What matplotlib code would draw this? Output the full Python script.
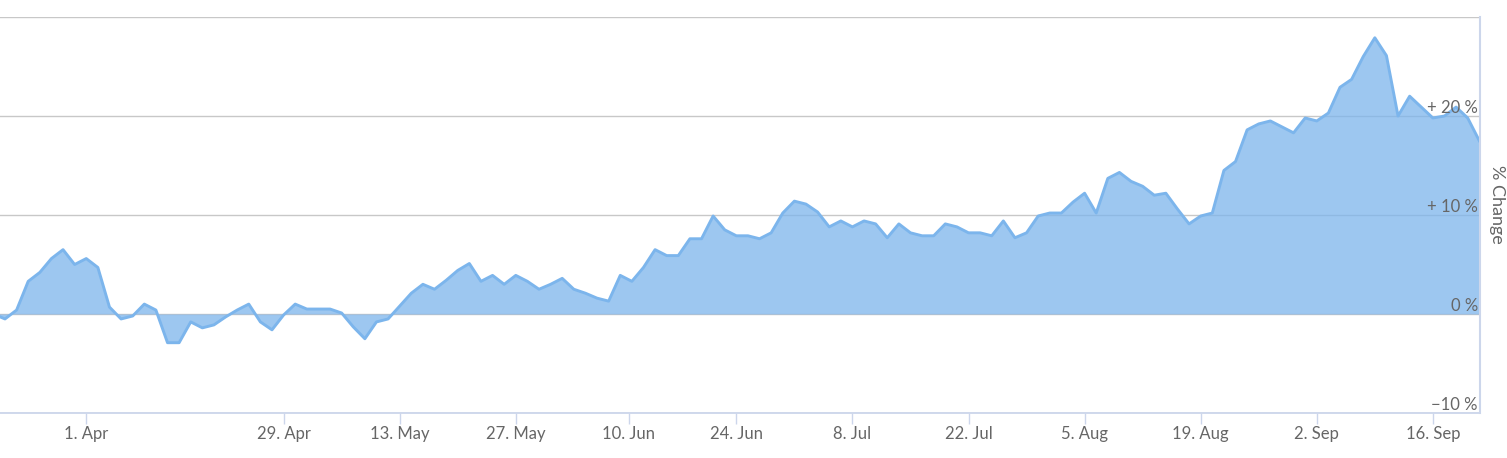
import numpy as np
import pandas as pd
import matplotlib
matplotlib.use('Agg')
import matplotlib.pyplot as plt

plt.rcParams['font.family'] = ['Lato', 'DejaVu Sans']

# trading days (market closed on these dates)
HOLIDAYS = ['2019-04-18', '2019-04-19', '2019-04-22', '2019-06-10']
dates = pd.bdate_range('2019-03-20', '2019-09-20', freq='C', holidays=HOLIDAYS)

# % change vs first day, one value per trading day
pct_change = [
    0.0, -0.5, 0.4, 3.3, 4.2, 5.6, 6.5, 5.0, 5.6, 4.7,
    0.7, -0.5, -0.2, 1.0, 0.4, -2.9, -2.9, -0.8, -1.4, -1.1,
    -0.3, 0.4, 1.0, -0.8, -1.6, -0.1, 1.0, 0.5, 0.5, 0.5,
    0.1, -1.3, -2.5, -0.8, -0.5, 0.8, 2.1, 3.0, 2.5, 3.4,
    4.4, 5.1, 3.3, 3.9, 3.0, 3.9, 3.3, 2.5, 3.0, 3.6,
    2.5, 2.1, 1.6, 1.3, 3.9, 3.3, 4.7, 6.5, 5.9, 5.9,
    7.6, 7.6, 9.9, 8.5, 7.9, 7.9, 7.6, 8.2, 10.2, 11.4,
    11.1, 10.3, 8.8, 9.4, 8.8, 9.4, 9.1, 7.7, 9.1, 8.2,
    7.9, 7.9, 9.1, 8.8, 8.2, 8.2, 7.9, 9.4, 7.7, 8.2,
    9.9, 10.2, 10.2, 11.3, 12.2, 10.2, 13.7, 14.3, 13.4, 12.9,
    12.0, 12.2, 10.6, 9.1, 9.9, 10.2, 14.5, 15.4, 18.6, 19.2,
    19.5, 18.9, 18.3, 19.8, 19.5, 20.3, 22.9, 23.7, 26.0, 27.9,
    26.1, 20.0, 22.0, 20.9, 19.8, 20.0, 20.9, 19.8, 17.5,
]

tick_dates = ['2019-04-01', '2019-04-29', '2019-05-13', '2019-05-27', '2019-06-10',
              '2019-06-24', '2019-07-08', '2019-07-22', '2019-08-05', '2019-08-19',
              '2019-09-02', '2019-09-16']
tick_labels = ['1. Apr', '29. Apr', '13. May', '27. May', '10. Jun', '24. Jun',
               '8. Jul', '22. Jul', '5. Aug', '19. Aug', '2. Sep', '16. Sep']

y_ticks = [-10, 0, 10, 20, 30]
y_labels = {-10: '\u221210 %', 0: '0 %', 10: '+ 10 %', 20: '+ 20 %'}

LINE = '#7cb5ec'
AXIS = '#ccd6eb'
GRID = '#c8c8c8'
TEXT = '#666666'

# ordinal x axis: one slot per trading day, ticks interpolated on closed days
x = np.arange(len(dates))
day_num = dates.values.astype('datetime64[D]').astype(float)
tick_num = pd.to_datetime(tick_dates).values.astype('datetime64[D]').astype(float)
tick_pos = np.interp(tick_num, day_num, x)

W, H = 1507, 458
fig = plt.figure(figsize=(W / 100, H / 100), dpi=100)
ax = fig.add_axes([0, 45 / H, 1480 / W, 396 / H])

ax.fill_between(x, pct_change, 0, color=LINE, alpha=0.75, lw=0, zorder=1)
ax.plot(x, pct_change, color=LINE, lw=2.1, zorder=2, solid_joinstyle='round')

ax.set_xlim(0.57, 128.06)
ax.set_ylim(-10, 30)

ax.set_yticks(y_ticks)
ax.set_axisbelow(True)
ax.grid(axis='y', color=GRID, lw=1)
ax.tick_params(axis='y', left=False, labelleft=False)

ax.set_xticks(tick_pos, tick_labels)
ax.tick_params(axis='x', length=8, width=1, color=AXIS, pad=1.5,
               labelsize=12, labelcolor=TEXT)

for side in ['left', 'top']:
    ax.spines[side].set_visible(False)
ax.spines['bottom'].set_color(AXIS)
ax.spines['bottom'].set_linewidth(1.3)
ax.spines['right'].set_color(AXIS)
ax.spines['right'].set_linewidth(1.5)

for v, lab in y_labels.items():
    ax.annotate(lab, xy=(1, v), xycoords=('axes fraction', 'data'),
                xytext=(-1.5, 2.5), textcoords='offset points',
                ha='right', va='baseline', fontsize=12, color=TEXT)

fig.text(1497 / W, 1 - 204 / H, '% Change', rotation=-90, ha='center', va='center',
         fontsize=13, color=TEXT)

fig.savefig('out.png', dpi=100)
